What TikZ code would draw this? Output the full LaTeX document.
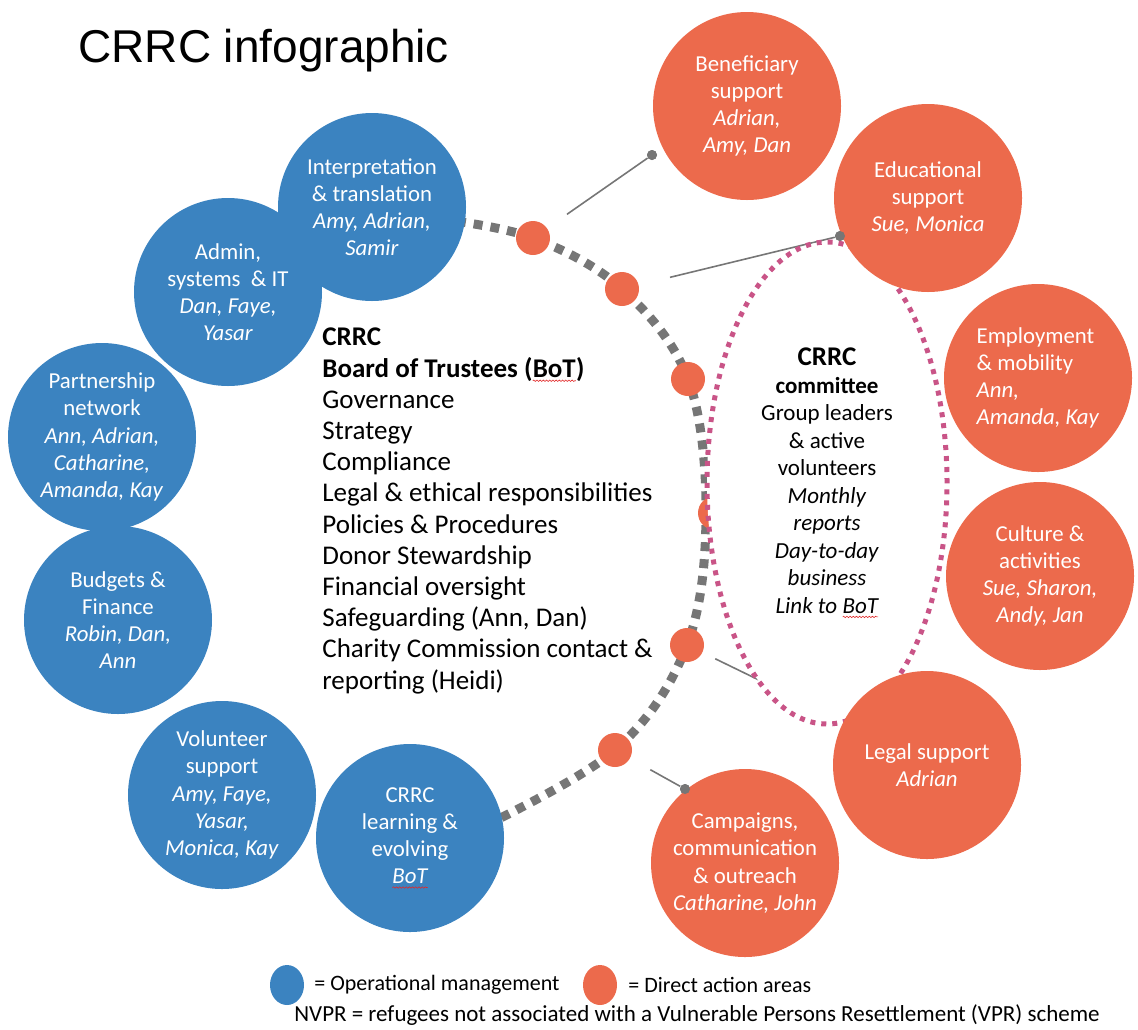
\documentclass[tikz,border=0pt]{standalone}
\usepackage{fontspec}
\setmainfont{Carlito}
\newfontfamily\titlefont{Liberation Sans}
\usetikzlibrary{shapes.geometric,decorations.pathmorphing}

\definecolor{bluop}{RGB}{59,131,192}
\definecolor{arand}{RGB}{236,106,76}
\definecolor{grigarc}{RGB}{118,118,118}
\definecolor{rosell}{RGB}{201,84,135}
\definecolor{ondina}{RGB}{225,40,40}

% sottolineatura ondulata rossa (correttore ortografico)
\newcommand\spellwave[1]{\tikz[baseline=(w.base), x=1pt, y=1pt]{%
  \node[shape=rectangle, minimum width=0pt, minimum height=0pt,
        inner sep=0pt, outer sep=0pt, draw=none, fill=none] (w) {#1};
  \draw[draw=ondina, fill=none, solid, line width=0.3pt, decorate,
        decoration={snake, amplitude=0.35pt, segment length=1.6pt}]
    ([yshift=-1.8pt]w.base west) -- ([yshift=-1.8pt]w.base east);}}

\begin{document}
\begin{tikzpicture}[
  x=0.5pt, y=-0.5pt,
  cerchio/.style={circle, minimum size=94pt, inner sep=0pt, text=white,
    font=\fontsize{11.4}{13.6}\selectfont},
  oper/.style={cerchio, fill=bluop, align=center},
  diretto/.style={cerchio, fill=arand},
  punto/.style={circle, fill=arand, minimum size=17pt, inner sep=0pt},
  perno/.style={circle, fill=grigarc, minimum size=5pt, inner sep=0pt},
  legame/.style={draw=grigarc, line width=0.8pt},
  arco/.style={draw=grigarc, line width=4.5pt, dash pattern=on 4.5pt off 4pt},
  comitato/.style={ellipse, draw=rosell, line width=2.5pt,
    dash pattern=on 2.5pt off 3pt, fill=white, minimum width=120pt,
    minimum height=241pt, inner sep=0pt, align=center,
    font=\fontsize{11.5}{13.75}\selectfont}
]
\useasboundingbox (0,0) rectangle (1138,1029);

%--------------------------------------------------------------
% Arco tratteggiato grigio e punti arancioni
%--------------------------------------------------------------
\coordinate (a0) at (440,219);
\foreach \n/\x/\y in {c1/533/238, c2/622/289, c3/688/379,
                      c4/706/513, c5/687/645, c6/615/750}
  \coordinate (\n) at (\x,\y);
\coordinate (a7) at (480,828);

\draw[arco] plot[smooth, tension=0.6]
  coordinates {(a0) (c1) (c2) (c3) (c4) (c5) (c6) (a7)};

\foreach \n/\c in {d1/c1, d2/c2, d3/c3, d5/c5, d6/c6}
  \node[punto] (\n) at (\c) {};
\node[punto] (d4) at (715,513) {};

%--------------------------------------------------------------
% Collegamenti verso le aree di azione diretta
%--------------------------------------------------------------
\node[perno] (pbenef) at (652,155) {};
\node[perno] (peduc) at (840,236) {};
\node[perno] (pcamp) at (685,789) {};
\coordinate (plegal) at (800,700);

\draw[legame, shorten <=12pt] (d1) -- (pbenef);
\draw[legame, shorten <=16pt] (d2) -- (peduc);
\draw[legame, shorten <=11.5pt] (d6) -- (pcamp);
\draw[legame, shorten <=7pt] (d5) -- (plegal);

%--------------------------------------------------------------
% Comitato (ellisse punteggiata)
%--------------------------------------------------------------
\node[comitato] (comit) at (827,483)
  {{\fontsize{13.5}{15}\selectfont\bfseries CRRC}\\
   \textbf{committee}\\ Group leaders\\ \& active\\ volunteers\\
   \textit{Monthly}\\ \textit{reports}\\ \textit{Day-to-day}\\
   \textit{business}\\ \textit{Link to \spellwave{BoT}}};

%--------------------------------------------------------------
% Cerchi: gestione operativa (blu) e azione diretta (arancio)
%--------------------------------------------------------------
\foreach \n/\x/\y/\t in {
  interp/372/207/{Interpretation\\\& translation\\\textit{Amy, Adrian,}\\\textit{Samir}},
  admin/228/292/{Admin,\\systems \ \& IT\\\textit{Dan, Faye,}\\\textit{Yasar}},
  partner/102/437/{Partnership\\network\\\textit{Ann, Adrian,}\\\textit{Catharine,}\\\textit{Amanda, Kay}},
  budget/118/620/{Budgets \&\\Finance\\\textit{Robin, Dan,}\\\textit{Ann}},
  volont/222/795/{Volunteer\\support\\\textit{Amy, Faye,}\\\textit{Yasar,}\\\textit{Monica, Kay}},
  learn/410/838/{CRRC\\learning \&\\evolving\\\textit{\spellwave{BoT}}}}
  \node[oper] (\n) at (\x,\y) {\t};

\foreach \n/\x/\y/\al/\t in {
  benef/747/106/center/{Beneficiary\\support\\\textit{Adrian,}\\\textit{Amy, Dan}},
  educ/928/198/center/{Educational\\support\\\textit{Sue, Monica}},
  employ/1038/378/left/{Employment\\\& mobility\\\textit{Ann,}\\\textit{Amanda, Kay}},
  cultura/1040/576/center/{Culture \&\\activities\\\textit{Sue, Sharon,}\\\textit{Andy, Jan}},
  legale/927/765/center/{Legal support\\\textit{Adrian}},
  campagne/745/863/center/{Campaigns,\\communication\\\& outreach\\\textit{Catharine, John}}}
  \node[diretto, align=\al] (\n) at (\x,\y) {\t};

% perni in primo piano sul bordo dei cerchi
\foreach \p in {pbenef, peduc, pcamp}
  \node[perno] at (\p) {};

%--------------------------------------------------------------
% Consiglio di amministrazione (testo centrale)
%--------------------------------------------------------------
\node[anchor=west, align=left, inner sep=0pt,
      font=\fontsize{13.5}{15.6}\selectfont] (bot) at (322,511)
  {\textbf{CRRC}\\ \textbf{Board of Trustees (\spellwave{BoT})}\\
   Governance\\ Strategy\\ Compliance\\ Legal \& ethical responsibilities\\
   Policies \& Procedures\\ Donor Stewardship\\ Financial oversight\\
   Safeguarding (Ann, Dan)\\ Charity Commission contact \&\\
   reporting (Heidi)};

%--------------------------------------------------------------
% Titolo e legenda
%--------------------------------------------------------------
\node[anchor=base west, inner sep=0pt,
      font=\titlefont\fontsize{23}{26}\selectfont] (titolo) at (78,62)
  {CRRC infographic};

\node[ellipse, fill=bluop, minimum width=17pt, minimum height=20pt,
      inner sep=0pt] (legop) at (287,985) {};
\node[anchor=west, inner sep=0pt, font=\fontsize{11}{13}\selectfont]
  (legoptxt) at (314,985) {= Operational management};
\node[ellipse, fill=arand, minimum width=17pt, minimum height=20pt,
      inner sep=0pt] (legdir) at (600,985) {};
\node[anchor=west, inner sep=0pt, font=\fontsize{11}{13}\selectfont]
  (legdirtxt) at (628,985) {= Direct action areas};

\node[inner sep=0pt, font=\fontsize{11.5}{13}\selectfont] (nota) at (697,1015)
  {NVPR = refugees not associated with a Vulnerable Persons Resettlement (VPR) scheme};

\end{tikzpicture}
\end{document}
